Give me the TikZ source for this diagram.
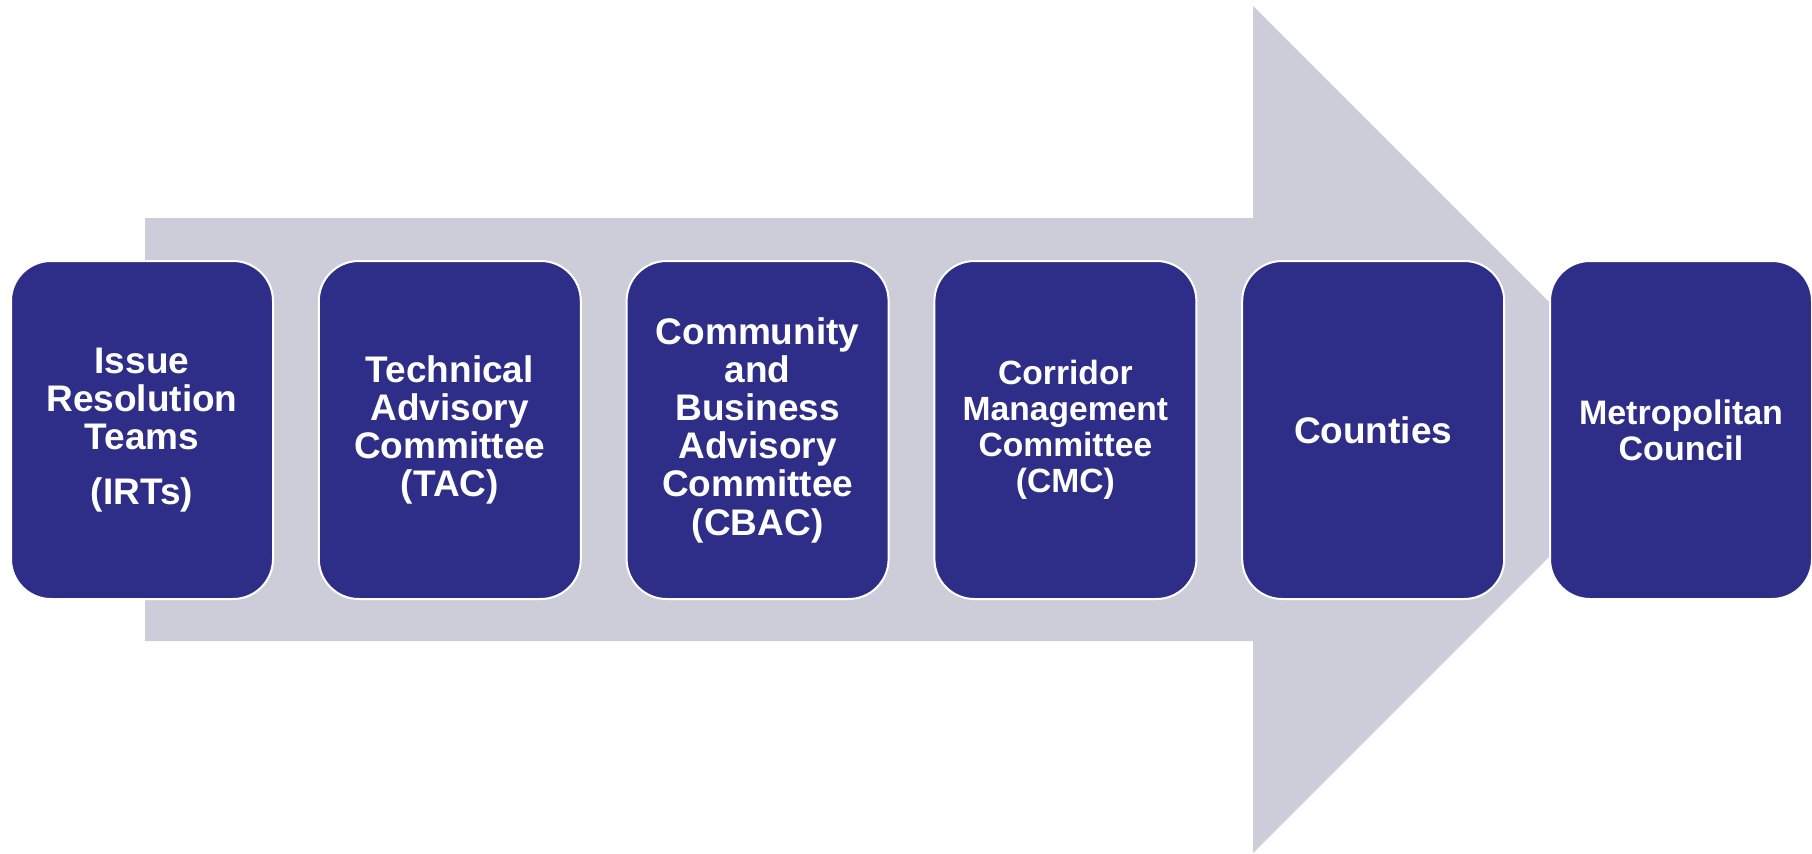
\documentclass[tikz,border=0pt]{standalone}
\usepackage{fontspec}
\usetikzlibrary{%
    positioning
}
\newfontfamily\stagefamily{Liberation Sans}
\definecolor{stagenavy}{RGB}{46,46,136}
\definecolor{flowgray}{RGB}{205,205,218}
\tikzset{
    stage/.style = {draw=white, line width=1pt, fill=stagenavy, text=white,
        rounded corners=20pt, minimum width=131pt, minimum height=169pt,
        text width=124pt, align=center, inner sep=0pt, outer sep=0pt,
        font=\stagefamily\bfseries\fontsize{18.5}{19.1}\selectfont},
    smallstage/.style = {stage, font=\stagefamily\bfseries\fontsize{16.8}{18}\selectfont},
    midstage/.style = {stage, font=\stagefamily\bfseries\fontsize{17}{18}\selectfont}
}

\begin{document}
\begin{tikzpicture}[x=0.5pt, y=-0.5pt]
    \useasboundingbox (0,0) rectangle (1812,853);
    % big arrow behind the boxes
    \fill[flowgray] (145,218) -- (1253,218) -- (1253,6) -- (1676.5,429.5)
        -- (1253,853) -- (1253,641) -- (145,641) -- cycle;

    \node[stage] (1) at (142,430) {Issue\\Resolution\\Teams\\[8.5pt](IRTs)};
    \foreach \x/\Style/\Label [remember=\x as \lastx (initially 1)] in {%
        2/stage/{Technical\\Advisory\\Committee\\(TAC)},
        3/stage/{Community\\and\\Business\\Advisory\\Committee\\(CBAC)},
        4/smallstage/{Corridor\\Management\\Committee\\(CMC)},
        5/stage/{Counties},
        6/midstage/{Metropolitan\\Council}%
        }
    \node[\Style] (\x) [right=22.9pt of \lastx] {\Label};
\end{tikzpicture}
\end{document}
